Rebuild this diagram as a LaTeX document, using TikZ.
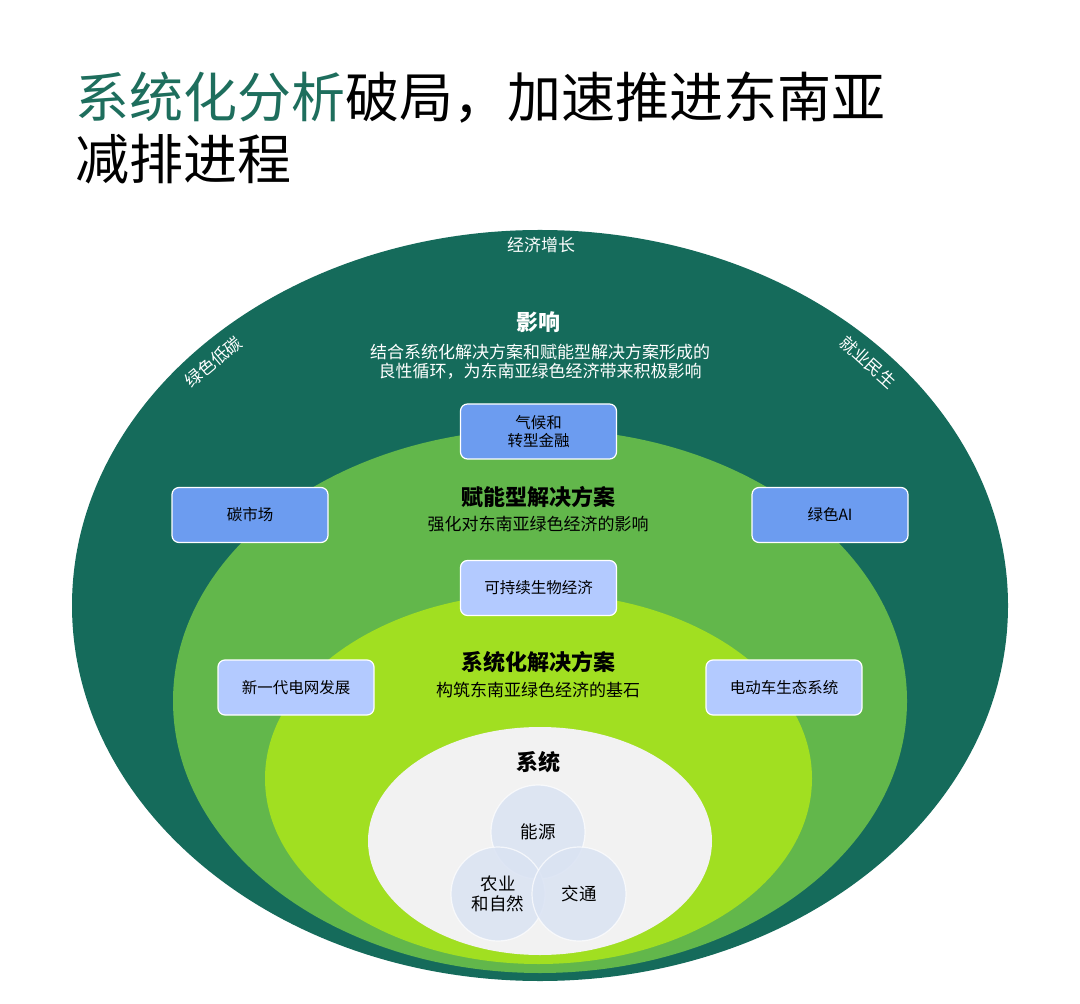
\documentclass[tikz,border=0pt]{standalone}
\usepackage{fontspec}
\setmainfont{Noto Sans CJK SC}
\usetikzlibrary{shapes.geometric}
\definecolor{dkgreen}{HTML}{156B5B}
\definecolor{midgreen}{HTML}{62B74B}
\definecolor{lime}{HTML}{A1DF21}
\definecolor{lgray}{HTML}{F2F2F2}
\definecolor{boxdark}{HTML}{6C9CF0}
\definecolor{boxlight}{HTML}{B3CAFF}
\definecolor{circfill}{HTML}{DAE3F3}
\definecolor{titleteal}{HTML}{1E6E5D}
\tikzset{
  px/.style={x=0.5pt,y=-0.5pt},
  normtxt/.style={font=\fontsize{8.5}{9.5}\selectfont, inner sep=0pt, align=center},
  headtxt/.style={font=\fontsize{11}{12}\selectfont\bfseries, inner sep=0pt},
  boxbase/.style={draw=white, line width=0.6pt, rounded corners=3.5pt, minimum width=78pt, minimum height=27.5pt, inner sep=0pt, align=center, font=\fontsize{7.75}{9}\selectfont},
  darkbox/.style={boxbase, fill=boxdark},
  lightbox/.style={boxbase, fill=boxlight},
  venn/.style={circle, fill=circfill, fill opacity=0.85, text opacity=1, draw=white, draw opacity=0.7, line width=0.6pt, minimum size=47pt, inner sep=0pt, align=center, font=\fontsize{8.75}{10}\selectfont},
}
\begin{document}
\begin{tikzpicture}[px]
\useasboundingbox (0,0) rectangle (1080,1004);
\fill[white] (0,0) rectangle (1080,1004);
% title
\node[anchor=base west, inner sep=0pt, font=\fontsize{27}{31}\selectfont] (title1) at (75,118) {\textcolor{titleteal}{系统化分析}破局，加速推进东南亚};
\node[anchor=base west, inner sep=0pt, font=\fontsize{27}{31}\selectfont] (title2) at (75,180) {减排进程};
% ellipses
\fill[dkgreen] (540,605.5) ellipse [x radius=234pt, y radius=187.75pt];
\fill[midgreen] (540,701) ellipse [x radius=183.5pt, y radius=136pt];
\fill[lime] (538.5,778.5) ellipse [x radius=136.75pt, y radius=92.75pt];
\fill[lgray] (540,841) ellipse [x radius=86pt, y radius=57pt];
% outer labels
\node[normtxt, text=white] (econ) at (541,245) {经济增长};
\node[normtxt, text=white, rotate=40] (lowc) at (213,362) {绿色低碳};
\node[normtxt, text=white, rotate=-42] (jobs) at (868,362) {就业民生};
\node[headtxt, text=white] (impact) at (538,322) {影响};
\node[normtxt, text=white] (impacttxt) at (540,362) {结合系统化解决方案和赋能型解决方案形成的\\良性循环，为东南亚绿色经济带来积极影响};
% enabling
\node[headtxt] (enab) at (538,497) {赋能型解决方案};
\node[normtxt] (enabtxt) at (538,524) {强化对东南亚绿色经济的影响};
% systemic
\node[headtxt] (sysh) at (538,662) {系统化解决方案};
\node[normtxt] (systxt) at (538,690) {构筑东南亚绿色经济的基石};
% system
\node[headtxt] (sys) at (538,762) {系统};
% boxes
\node[darkbox] (climate) at (538.5,431.5) {气候和\\转型金融};
\node[darkbox] (carbon) at (250,515) {碳市场};
\node[darkbox] (greenai) at (830,515) {绿色AI};
\node[lightbox] (bio) at (538.5,588) {可持续生物经济};
\node[lightbox] (grid) at (296,687.5) {新一代电网发展};
\node[lightbox] (ev) at (784,687.5) {电动车生态系统};
% venn
\node[venn] (energy) at (538,832) {能源};
\node[venn] (agri) at (498,894) {农业\\和自然};
\node[venn] (trans) at (579,894) {交通};
\end{tikzpicture}
\end{document}
